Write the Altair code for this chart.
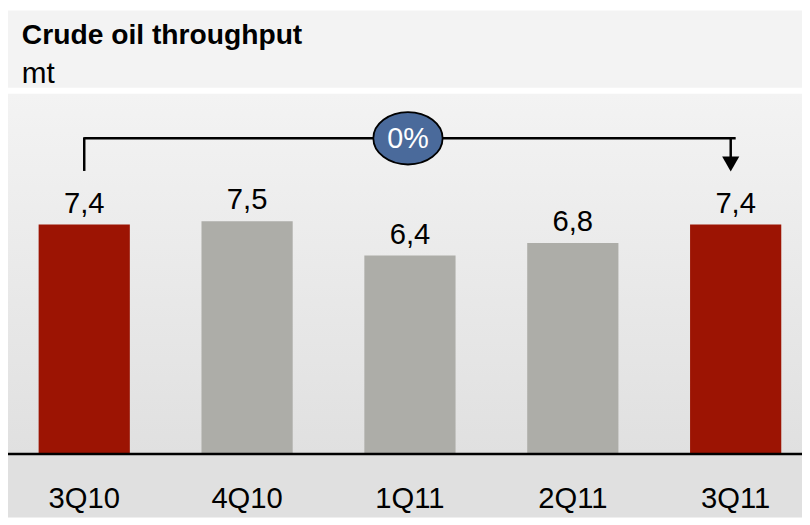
import altair as alt
import pandas as pd

TITLE = "Crude oil throughput"
UNIT = "mt"
QUARTERS = ["3Q10", "4Q10", "1Q11", "2Q11", "3Q11"]
VALUES = [7.4, 7.5, 6.4, 6.8, 7.4]
HIGHLIGHT = [True, False, False, False, True]
CHANGE_FROM = "3Q10"
CHANGE_TO = "3Q11"
CHANGE_MID = "1Q11"
CHANGE_LABEL = "0%"

FONT = "Liberation Sans, Arial, sans-serif"
W, H = 802, 512
RED = "#9C1403"
GREY = "#ADADA8"

df = pd.DataFrame({
    "q": QUARTERS,
    "v": VALUES,
    "lab": [f"{v:.1f}".replace(".", ",") for v in VALUES],
    "col": [RED if h else GREY for h in HIGHLIGHT],
})

xs = alt.Scale(domain=QUARTERS, range=[-5.25, 817.25], paddingInner=0.44, paddingOuter=0.22)
ys = alt.Scale(domain=[0, 10], range=[448, 134.5])
X = alt.X("q:N", scale=xs, axis=None, sort=QUARTERS)
Y = alt.Y("v:Q", scale=ys, axis=None)

one = alt.Data(values=[{}])

top_band = alt.Chart(one).mark_rect(fill="#F3F3F3").encode(
    x=alt.value(0), x2=alt.value(W), y=alt.value(0), y2=alt.value(78))
grad = alt.Gradient(gradient="linear", x1=0, x2=0, y1=0, y2=1,
                    stops=[alt.GradientStop(color="#F3F3F3", offset=0),
                           alt.GradientStop(color="#E0E0E0", offset=1)])
mid_band = alt.Chart(one).mark_rect(fill=grad).encode(
    x=alt.value(0), x2=alt.value(W), y=alt.value(84), y2=alt.value(448))
low_band = alt.Chart(one).mark_rect(fill="#E0E0E0").encode(
    x=alt.value(0), x2=alt.value(W), y=alt.value(448), y2=alt.value(H))

title = alt.Chart(pd.DataFrame({"t": [TITLE]})).mark_text(
    font=FONT, fontSize=28.5, fontWeight="bold", align="left", baseline="alphabetic", color="black"
).encode(x=alt.value(14), y=alt.value(34), text="t:N")
unit = alt.Chart(pd.DataFrame({"t": [UNIT]})).mark_text(
    font=FONT, fontSize=30, align="left", baseline="alphabetic", color="black"
).encode(x=alt.value(14), y=alt.value(73), text="t:N")

bars = alt.Chart(df).mark_bar().encode(
    x=X, y=Y, y2=alt.datum(0), color=alt.Color("col:N", scale=None))

vals = alt.Chart(df).mark_text(
    font=FONT, fontSize=29.5, baseline="alphabetic", dy=-12, color="black"
).encode(x=X, y=Y, text="lab:N")

cats = alt.Chart(df).mark_text(
    font=FONT, fontSize=29.5, baseline="alphabetic", color="black"
).encode(x=X, y=alt.value(502), text="q:N")

base_line = alt.Chart(one).mark_rule(color="black", strokeWidth=2.5).encode(
    x=alt.value(-5), x2=alt.value(W), y=alt.value(448))

br = pd.DataFrame({"a": [CHANGE_FROM], "b": [CHANGE_TO], "m": [CHANGE_MID], "t": [CHANGE_LABEL]})
XA = alt.X("a:N", scale=xs, axis=None)
XB = alt.X("b:N", scale=xs, axis=None)
XM = alt.X("m:N", scale=xs, axis=None)

left_v = alt.Chart(br).mark_rule(color="black", strokeWidth=2.5).encode(
    x=XA, y=alt.value(128), y2=alt.value(162))
horiz = alt.Chart(br).mark_rule(color="black", strokeWidth=2.5).encode(
    x=XA, x2="b:N", y=alt.value(129))
right_v = alt.Chart(br).mark_rule(color="black", strokeWidth=2.5, xOffset=-5).encode(
    x=XB, y=alt.value(128), y2=alt.value(152))
arrow = alt.Chart(br).mark_point(shape="triangle-down", filled=True, color="black",
                                 size=300, opacity=1, xOffset=-5).encode(
    x=XB, y=alt.value(155))
ellipse = alt.Chart(br).mark_point(
    shape="M -1 0 A 1 0.757 0 1 0 1 0 A 1 0.757 0 1 0 -1 0 Z",
    filled=True, fill="#4A6A9B", stroke="black", strokeWidth=1.8, size=4900, opacity=1,
    xOffset=-2
).encode(x=XM, y=alt.value(129))
pct = alt.Chart(br).mark_text(font=FONT, fontSize=29, color="white", baseline="middle", xOffset=-2, dy=1).encode(
    x=XM, y=alt.value(129), text="t:N")

chart = alt.layer(
    top_band, mid_band, low_band, title, unit, bars, vals, cats, base_line,
    left_v, horiz, right_v, arrow, ellipse, pct
).properties(
    width=W, height=H, autosize=alt.AutoSizeParams(type="none"), padding=0, background="white"
).configure_view(stroke=None)

chart.save("out.html", embed_options={"renderer": "svg", "actions": False})
